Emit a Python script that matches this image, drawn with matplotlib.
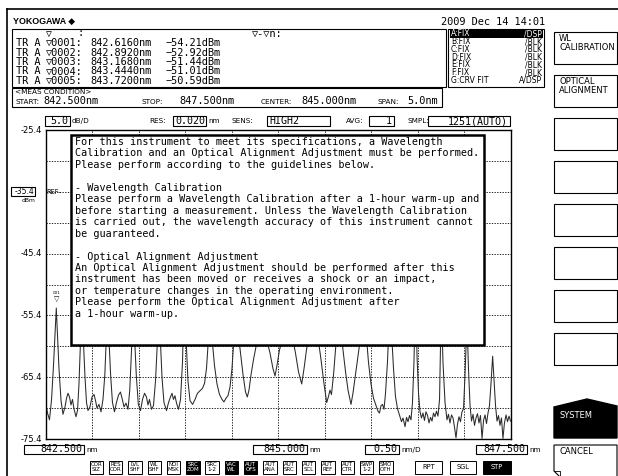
import matplotlib

matplotlib.use("Agg")
import matplotlib.pyplot as plt
import numpy as np
from matplotlib.patches import Polygon, Rectangle
from matplotlib.transforms import blended_transform_factory

# ---- screen values read from the analyzer display ----
wl_start, wl_center, wl_stop = 842.5, 845.0, 847.5
nm_per_div = 0.5
ref_dbm = -35.4
db_per_div = 5.0
y_labels = [-25.4, -45.4, -55.4, -65.4, -75.4]

marker_names = ["\u25bd0001:", "\u25bd0002:", "\u25bd0003:", "\u25bd0004:", "\u25bd0005:"]
marker_wl = [842.616, 842.892, 843.168, 843.444, 843.720]
marker_dbm = [-54.21, -52.92, -51.44, -51.01, -50.59]

trace_names = ["A:FIX", "B:FIX", "C:FIX", "D:FIX", "E:FIX", "F:FIX", "G:CRV FIT"]
trace_modes = ["/DSP", "/BLK", "/BLK", "/BLK", "/BLK", "/BLK", "A/DSP"]

softkeys = ["WL\nCALIBRATION", "OPTICAL\nALIGNMENT", "", "", "", "", "", ""]
func_keys = ["COR\nSIZ", "RES\nCOR", "LVL\nSHF", "WL\nSHF", "NOI\nMSK", "SRC\nZOM", "SRC\n1-2", "VAC\nWL",
             "AUT\nOFS", "AUT\nANA", "AUT\nSRC", "AUT\nSCL", "AUT\nREF", "AUT\nCTR", "SWP\n1-2", "SMO\nOTH"]
func_on = ["SRC\nZOM", "VAC\nWL", "AUT\nOFS"]

dialog_lines = [
    "For this instrument to meet its specifications, a Wavelength",
    "Calibration and an Optical Alignment Adjustment must be performed.",
    "Please perform according to the guidelines below.",
    "",
    "- Wavelength Calibration",
    "Please perform a Wavelength Calibration after a 1-hour warm-up and",
    "before starting a measurement. Unless the Wavelength Calibration",
    "is carried out, the wavelength accuracy of this instrument cannot",
    "be guaranteed.",
    "",
    "- Optical Alignment Adjustment",
    "An Optical Alignment Adjustment should be performed after this",
    "instrument has been moved or receives a shock or an impact,",
    "or temperature changes in the operating environment.",
    "Please perform the Optical Alignment Adjustment after",
    "a 1-hour warm-up.",
]

trace_wl = [
    842.500, 842.522, 842.543, 842.565, 842.586, 842.605, 842.616, 842.627, 842.645, 842.667, 842.688, 842.710,
    842.726, 842.742, 842.758, 842.774, 842.790, 842.806, 842.828, 842.844, 842.860, 842.878, 842.892,
    842.906, 842.925, 842.941, 842.957, 842.978, 843.000, 843.022, 843.038, 843.054, 843.075, 843.097, 843.118,
    843.138, 843.154, 843.168,
    843.182, 843.200, 843.220, 843.242, 843.263, 843.285, 843.306, 843.323, 843.344, 843.366, 843.387, 843.406,
    843.425, 843.444,
    843.458, 843.476, 843.498, 843.522, 843.543, 843.565, 843.586, 843.602, 843.618, 843.640, 843.661, 843.683,
    843.702, 843.720,
    843.734, 843.753, 843.774, 843.801, 843.823, 843.844, 843.860, 843.876, 843.892, 843.909, 843.930, 843.952,
    843.973, 843.996,
    844.011, 844.032, 844.054, 844.081, 844.108, 844.134, 844.161, 844.188, 844.210, 844.231, 844.253, 844.272,
    844.290, 844.317, 844.344, 844.371, 844.398, 844.419, 844.441, 844.462, 844.484, 844.505, 844.527, 844.548,
    844.570, 844.597, 844.624, 844.651, 844.670, 844.688, 844.710, 844.737, 844.763, 844.790, 844.824,
    844.849, 844.882, 844.914, 844.946, 844.968, 844.989, 845.016, 845.043, 845.075, 845.100,
    845.124, 845.156, 845.188, 845.220, 845.255, 845.280, 845.306, 845.328, 845.355, 845.376,
    845.398, 845.430, 845.462, 845.495, 845.524, 845.543, 845.559, 845.575, 845.597, 845.618, 845.634, 845.652,
    845.672, 845.699, 845.726, 845.753, 845.785, 845.806, 845.833, 845.860, 845.887, 845.909, 845.928,
    845.946, 845.973, 846.000, 846.027, 846.054, 846.075, 846.091, 846.108, 846.124, 846.140, 846.156, 846.177,
    846.194, 846.204,
    846.220, 846.242, 846.263, 846.285, 846.306, 846.328, 846.344, 846.366, 846.382, 846.398, 846.414, 846.430,
    846.446, 846.462, 846.480,
    846.495, 846.511, 846.527, 846.543, 846.559, 846.575, 846.591, 846.608, 846.624, 846.640, 846.656, 846.672,
    846.688, 846.704, 846.720, 846.737, 846.756,
    846.774, 846.796, 846.817, 846.833, 846.849, 846.866, 846.882, 846.898, 846.914, 846.930, 846.946, 846.962,
    846.978, 846.995, 847.011, 847.032,
    847.048, 847.065, 847.081, 847.097, 847.113, 847.129, 847.145, 847.161, 847.177, 847.194, 847.210, 847.226,
    847.242, 847.258, 847.274, 847.290, 847.308,
    847.323, 847.339, 847.355, 847.371, 847.387, 847.403, 847.419, 847.435, 847.452, 847.468, 847.484, 847.500,
]
trace_dbm = [
    -69.5, -71.2, -72.3, -69.0, -63.5, -57.5, -54.21, -57.8, -64.0, -69.2, -71.4, -70.2,
    -68.8, -68.0, -68.6, -69.9, -69.0, -70.5, -71.8, -70.8, -66.5, -59.0, -52.92,
    -59.0, -65.5, -69.5, -70.8, -70.2, -68.6, -68.2, -69.2, -70.4, -69.8, -71.0, -69.0,
    -65.0, -59.0, -51.44,
    -59.0, -65.0, -69.5, -71.0, -69.5, -68.3, -67.8, -68.8, -70.2, -69.6, -70.6, -67.5,
    -61.0, -51.01,
    -59.0, -65.0, -69.8, -70.8, -69.0, -68.0, -68.6, -69.9, -69.0, -70.6, -70.0, -66.0,
    -60.0, -50.59,
    -59.0, -65.5, -69.5, -70.8, -69.5, -68.6, -68.0, -69.0, -68.4, -69.6, -70.6, -69.0,
    -63.0, -48.0,
    -59.0, -66.0, -69.2, -69.8, -69.0, -68.0, -67.6, -67.2, -66.4, -64.0, -59.0, -45.0,
    -59.0, -63.5, -66.5, -68.2, -69.0, -69.4, -68.8, -68.4, -67.0, -64.0, -59.0, -42.0,
    -58.0, -61.5, -65.0, -67.8, -68.6, -67.5, -65.0, -62.5, -60.5, -58.0, -40.0,
    -57.0, -59.5, -61.5, -64.0, -65.2, -63.5, -61.0, -59.5, -57.5, -38.0,
    -57.0, -59.0, -61.5, -64.5, -66.5, -64.0, -61.0, -59.0, -57.0, -38.0,
    -56.0, -59.0, -62.5, -66.5, -69.5, -68.5, -67.5, -68.2, -65.0, -61.0, -58.0, -40.0,
    -57.5, -61.0, -64.5, -67.5, -69.8, -68.0, -65.0, -62.0, -59.0, -57.0, -43.0,
    -58.0, -63.0, -66.5, -68.8, -70.0, -70.9, -71.2, -70.0, -69.8, -70.6, -68.0, -63.0,
    -57.0, -47.0,
    -58.0, -64.0, -68.5, -70.5, -71.5, -72.6, -72.0, -73.4, -71.9, -72.6, -71.6, -72.3,
    -69.5, -63.0, -50.0,
    -62.0, -68.0, -71.0, -72.0, -71.2, -72.4, -71.0, -71.6, -72.8, -71.9, -72.5, -71.2,
    -71.8, -70.9, -71.7, -69.0, -53.0,
    -63.0, -69.5, -72.3, -71.4, -72.8, -71.5, -72.0, -73.5, -75.2, -73.0, -71.8, -72.6,
    -71.0, -70.5, -65.0, -56.0,
    -64.0, -70.0, -72.5, -71.4, -73.2, -72.0, -71.3, -72.8, -71.6, -75.3, -72.4, -71.5,
    -72.9, -71.2, -70.0, -66.5, -62.0,
    -66.0, -70.0, -72.5, -71.6, -73.2, -72.0, -75.3, -72.8, -71.5, -72.6, -71.7, -72.5,
]

# ---- layout (pixels of the 618x476 screen) ----
W, H = 618, 476
PL, PR, PT, PB = 45.5, 510.5, 130.0, 439.0

MONO = ["DejaVu Sans Mono", "DejaVu Sans"]
SANS = ["DejaVu Sans"]

fig = plt.figure(figsize=(W / 100, H / 100), dpi=100)
fig.patch.set_facecolor("white")

ax = fig.add_axes([PL / W, 1 - PB / H, (PR - PL) / W, (PB - PT) / H])
ax.set_xlim(wl_start, wl_stop)
ax.set_ylim(ref_dbm - 8 * db_per_div, ref_dbm + 2 * db_per_div)
ax.set_xticks(np.arange(wl_start, wl_stop + 1e-6, nm_per_div))
ax.set_yticks(np.arange(ref_dbm - 8 * db_per_div, ref_dbm + 2 * db_per_div + 1e-6, db_per_div))
ax.tick_params(length=0, labelbottom=False, labelleft=False)
ax.grid(True, color="black", lw=0.6, ls=(0, (1.6, 1.6)))
for s in ax.spines.values():
    s.set_linewidth(1.0)
ax.plot(trace_wl, trace_dbm, color="#2a2a2a", lw=0.75)

# marker 1 symbol above its peak
ax.annotate("\u25bd", (marker_wl[0], marker_dbm[0]), xytext=(0, 4), textcoords="offset points",
            ha="center", va="bottom", fontsize=5, family=SANS)
ax.annotate("001", (marker_wl[0], marker_dbm[0]), xytext=(0, 9.5), textcoords="offset points",
            ha="center", va="bottom", fontsize=3, family=SANS)

ylab = blended_transform_factory(ax.transAxes, ax.transData)
for v in y_labels:
    ax.text(-0.008, v, f"{v:.1f}", transform=ylab, ha="right", va="center", fontsize=6.0, family=SANS)

# ---- screen overlay ----
ui = fig.add_axes([0, 0, 1, 1])
ui.set_xlim(0, W)
ui.set_ylim(H, 0)
ui.axis("off")
ui.set_zorder(5)
ui.patch.set_alpha(0)


def box(x0, y0, x1, y1, fc="white", lw=0.8):
    ui.add_patch(Rectangle((x0, y0), x1 - x0, y1 - y0, fc=fc, ec="black", lw=lw))


def txt(x, y, s, size, ha="left", color="black", family=MONO, va="center", **kw):
    ui.text(x, y, s, fontsize=size, ha=ha, va=va, color=color, family=family, **kw)


ui.plot([7, W], [9, 9], color="black", lw=1.2)
ui.plot([7, 7], [9, H], color="black", lw=1.2)
txt(13, 21, "YOKOGAWA \u25c6", 6.4, family=["Liberation Sans", "DejaVu Sans"], fontweight="bold")
txt(545, 22, "2009 Dec 14 14:01", 7.4, ha="right")

# marker table
box(12, 29.3, 446, 86.7)
txt(46, 33.5, "\u25bd", 7.0)
txt(78, 33.5, ":", 7.4)
txt(252, 33.5, "\u25bd-\u25bdn:", 7.4)
for i, (name, wl, lv) in enumerate(zip(marker_names, marker_wl, marker_dbm)):
    y = 43 + 9.5 * i
    txt(16, y, "TR A", 7.4)
    txt(46, y, name, 7.4)
    txt(90, y, f"{wl:.4f}nm", 7.4)
    txt(166, y, f"{lv:.2f}dBm".replace("-", "\u2212"), 7.4)

# trace table
box(448, 29.3, 544, 87)
ui.add_patch(Rectangle((449.5, 30.2), 93, 7.4, fc="black", ec="none"))
for i, (nm_, md) in enumerate(zip(trace_names, trace_modes)):
    y = 33.8 + 7.75 * i
    c = "white" if i == 0 else "black"
    txt(451, y, nm_, 5.5, color=c, family=SANS)
    txt(542, y, md, 5.5, ha="right", color=c, family=SANS)

# soft keys
for i, lab in enumerate(softkeys):
    y0 = 32 + 43 * i
    box(554, y0, 617, y0 + 32)
    if lab:
        txt(559, y0 + 2, lab, 6.0, family=SANS, va="top", linespacing=0.95)
ui.add_patch(Polygon([(554, 438), (554, 407), (587, 399), (617, 406), (617, 438)], fc="black", ec="black"))
txt(559, 416, "SYSTEM", 6.0, color="white", family=SANS)
ui.add_patch(Polygon([(554, 445), (617, 445), (617, 477), (560, 477), (554, 471)], fc="white", ec="black", lw=0.8))
ui.plot([554, 560, 560], [471, 471, 477], color="black", lw=0.6)
txt(559, 451, "CANCEL", 6.0, family=SANS)

# measurement condition
box(12, 87.7, 442, 106.7)
txt(15, 92.5, "<MEAS CONDITION>", 5.2, family=SANS)
txt(15, 102, "START:", 5.2, family=SANS)
txt(43, 101.5, f"{wl_start:.3f}nm", 7.4)
txt(141, 102, "STOP:", 5.2, family=SANS)
txt(179, 101.5, f"{wl_stop:.3f}nm", 7.4)
txt(261, 102, "CENTER:", 5.2, family=SANS)
txt(301, 101.5, f"{wl_center:.3f}nm", 7.4)
txt(378, 102, "SPAN:", 5.2, family=SANS)
txt(438, 101.5, f"{wl_stop - wl_start:.1f}nm", 7.4, ha="right")

# setting row
ry = 121
box(45, 116, 70, 126)
txt(68.5, ry, f"{db_per_div:.1f}", 7.2, ha="right")
txt(72, ry, "dB/D", 5.2, family=SANS)
txt(149, ry, "RES:", 5.2, family=SANS)
box(173, 116, 206, 126)
txt(175, ry, "0.020", 7.2)
txt(208, ry, "nm", 5.2, family=SANS)
txt(232, ry, "SENS:", 5.2, family=SANS)
box(267, 116, 330, 126)
txt(269, ry, "HIGH2", 7.2)
txt(346, ry, "AVG:", 5.2, family=SANS)
box(369, 116, 394, 126)
txt(392, ry, "1", 7.2, ha="right")
txt(407, ry, "SMPL:", 5.2, family=SANS)
box(428, 116, 510, 126)
txt(508, ry, "1251(AUTO)", 7.2, ha="right")

# reference level
ref_y = PT + 2 * (PB - PT) / 10
box(11, ref_y - 4.5, 35, ref_y + 4)
txt(34, ref_y, f"{ref_dbm:.1f}", 5.5, ha="right", family=SANS)
txt(35, ref_y + 9, "dBm", 4.3, ha="right", family=SANS)
txt(46.5, ref_y, "REF-", 4.8, family=SANS)

# message dialog
ui.add_patch(Rectangle((71, 135), 413, 210, fc="white", ec="black", lw=1.8))
for i, line in enumerate(dialog_lines):
    txt(75, 142 + 11.45 * i, line, 7.25)

# bottom scale labels
by = 449.5
for (x0, x1, val, unit) in [(24, 84, f"{wl_start:.3f}", "nm"), (253, 307, f"{wl_center:.3f}", "nm"),
                            (365, 399, f"{nm_per_div:.2f}", "nm/D"), (476, 527, f"{wl_stop:.3f}", "nm")]:
    box(x0, by - 4.5, x1, by + 4.5)
    txt(x1 - 1.5, by, val, 7.2, ha="right")
    txt(x1 + 2, by + 0.5, unit, 5.2, family=SANS)

# function keys
for i, lab in enumerate(func_keys):
    x0 = 89.6 + 19.3 * i
    on = lab in func_on
    box(x0, 461, x0 + 13.4, 473.5, fc="black" if on else "white", lw=0.7)
    txt(x0 + 6.7, 467.3, lab, 4.0, ha="center", color="white" if on else "black", family=SANS,
        linespacing=1.0, multialignment="center")
for (x0, x1, lab, on) in [(415, 442, "RPT", False), (450, 476, "SGL", False), (483, 511, "STP", True)]:
    box(x0, 461, x1, 473.5, fc="black" if on else "white", lw=0.7)
    txt((x0 + x1) / 2, 467.3, lab, 4.8, ha="center", color="white" if on else "black", family=SANS)

fig.savefig("out.png", dpi=100, facecolor="white")
